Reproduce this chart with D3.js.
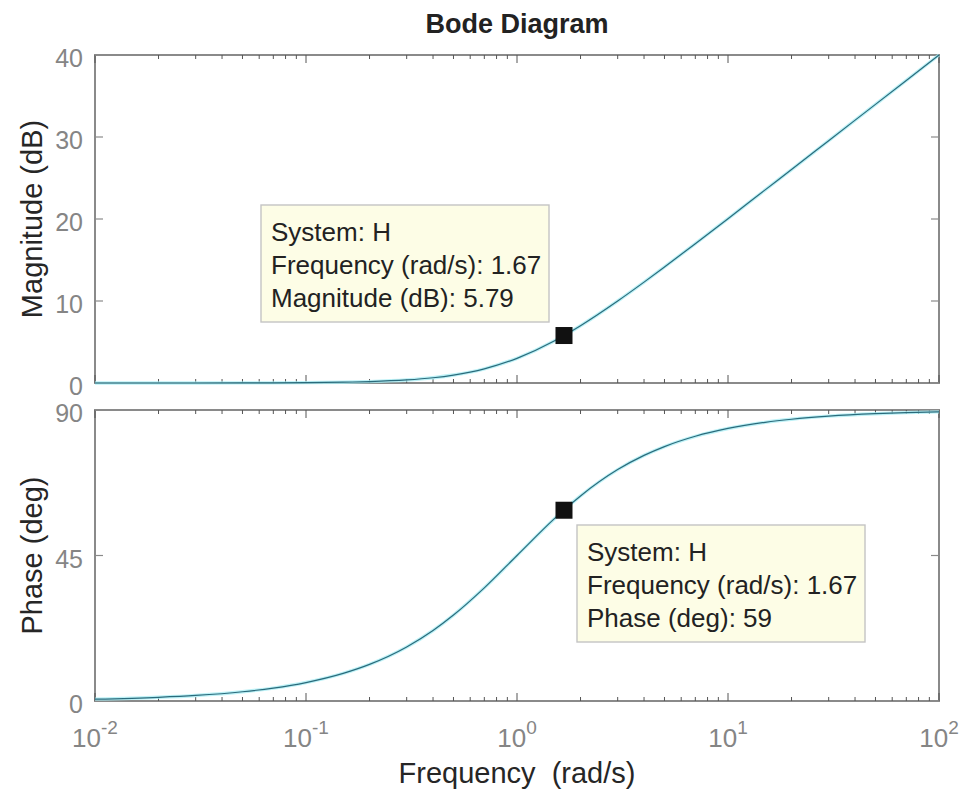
<!DOCTYPE html>
<html>
<head>
<meta charset="utf-8">
<script src="https://cdn.jsdelivr.net/npm/d3@7"></script>
<style>
  body { margin: 0; background: #fff; }
  svg { display: block; font-family: Arial, "Liberation Sans", sans-serif; }
</style>
</head>
<body>
<svg id="chart" width="962" height="792"></svg>
<script>
// Frequency response of system H, sampled along the log axis
const freq      = [0.01, 0.02, 0.03, 0.05, 0.07, 0.1, 0.15, 0.2, 0.3, 0.4, 0.5, 0.7, 1, 1.5, 1.67, 2, 3, 4, 5, 7, 10, 15, 20, 30, 50, 70, 100];
const magnitude = [0.00, 0.00, 0.00, 0.01, 0.02, 0.04, 0.10, 0.17, 0.37, 0.64, 0.97, 1.73, 3.01, 5.12, 5.79, 6.99, 10.00, 12.30, 14.15, 16.99, 20.04, 23.55, 26.03, 29.55, 33.98, 36.90, 40.00];
const phase     = [0.57, 1.15, 1.72, 2.86, 4.00, 5.71, 8.53, 11.31, 16.70, 21.80, 26.57, 34.99, 45.00, 56.31, 59.09, 63.43, 71.57, 75.96, 78.69, 81.87, 84.29, 86.19, 87.14, 88.09, 88.85, 89.18, 89.43];

const magTicks   = [0, 10, 20, 30, 40];
const phaseTicks = [0, 45, 90];
const decadeExps = [-2, -1, 0, 1, 2];

// Data tip
const tipFreq = 1.67, tipMag = 5.79, tipPhase = 59;
const tipSystem = "H";

const svg = d3.select("#chart");
const left = 95, right = 939;
const magTop = 55, magBottom = 383;
const phTop = 410, phBottom = 701;

const x = d3.scaleLog().domain([0.01, 100]).range([left, right]);
const yMag = d3.scaleLinear().domain([0, 40]).range([magBottom, magTop]);
const yPh  = d3.scaleLinear().domain([0, 90]).range([phBottom, phTop]);

const axisColor = "#8a8a8a";
const textColor = "#858585";

// minor ticks (2..9 per decade)
const minorTicks = [];
for (let e = -2; e < 2; e++) for (let m = 2; m <= 9; m++) minorTicks.push(m * Math.pow(10, e));
const majorTicks = decadeExps.map(e => Math.pow(10, e));

function panel(yScale, top, bottom, ticks) {
  const g = svg.append("g");
  g.append("rect").attr("x", left).attr("y", top).attr("width", right - left).attr("height", bottom - top)
    .attr("fill", "#fff").attr("stroke", axisColor).attr("stroke-width", 2);
  // x ticks on bottom & top
  minorTicks.forEach(f => {
    const px = x(f);
    g.append("line").attr("x1", px).attr("x2", px).attr("y1", bottom).attr("y2", bottom - 4).attr("stroke", "#555").attr("stroke-width", 1);
    g.append("line").attr("x1", px).attr("x2", px).attr("y1", top).attr("y2", top + 4).attr("stroke", "#555").attr("stroke-width", 1);
  });
  majorTicks.forEach(f => {
    const px = x(f);
    g.append("line").attr("x1", px).attr("x2", px).attr("y1", bottom).attr("y2", bottom - 8).attr("stroke", "#555").attr("stroke-width", 1);
    g.append("line").attr("x1", px).attr("x2", px).attr("y1", top).attr("y2", top + 8).attr("stroke", "#555").attr("stroke-width", 1);
  });
  // y ticks on left & right
  ticks.forEach(t => {
    const py = yScale(t);
    g.append("line").attr("x1", left).attr("x2", left + 8).attr("y1", py).attr("y2", py).attr("stroke", axisColor).attr("stroke-width", 1.2);
    g.append("line").attr("x1", right).attr("x2", right - 8).attr("y1", py).attr("y2", py).attr("stroke", axisColor).attr("stroke-width", 1.2);
    g.append("text").attr("x", left - 12).attr("y", py).attr("dy", "0.48em").attr("text-anchor", "end")
      .attr("fill", textColor).attr("font-size", 25).text(t);
  });
  return g;
}

const gMag = panel(yMag, magTop, magBottom, magTicks);
const gPh  = panel(yPh, phTop, phBottom, phaseTicks);

function drawCurve(g, yScale, values) {
  const pts = freq.map((f, i) => [f, values[i]]);
  const line = d3.line().x(d => x(d[0])).y(d => yScale(d[1])).curve(d3.curveMonotoneX);
  g.append("path").attr("d", line(pts)).attr("fill", "none").attr("stroke", "#a6ecf3").attr("stroke-width", 3.4).attr("opacity", 0.75);
  g.append("path").attr("d", line(pts)).attr("fill", "none").attr("stroke", "#2a6b7c").attr("stroke-width", 1.2);
}
drawCurve(gMag, yMag, magnitude);
drawCurve(gPh, yPh, phase);

// x tick labels 10^n
decadeExps.forEach(e => {
  const t = svg.append("text").attr("x", x(Math.pow(10, e))).attr("y", 747).attr("text-anchor", "middle")
    .attr("fill", textColor).attr("font-size", 26);
  t.append("tspan").text("10");
  t.append("tspan").attr("dy", -13).attr("font-size", 19).text(e);
});

// Titles
svg.append("text").attr("x", 517).attr("y", 33).attr("text-anchor", "middle").attr("font-size", 27)
  .attr("font-weight", "bold").attr("fill", "#222").text("Bode Diagram");
svg.append("text").attr("x", 517).attr("y", 783).attr("text-anchor", "middle").attr("font-size", 29)
  .attr("fill", "#262626").style("white-space", "pre").text("Frequency  (rad/s)");
svg.append("text").attr("transform", `translate(42,${(magTop + magBottom) / 2}) rotate(-90)`).attr("text-anchor", "middle")
  .attr("font-size", 29).attr("fill", "#262626").text("Magnitude (dB)");
svg.append("text").attr("transform", `translate(42,${(phTop + phBottom) / 2}) rotate(-90)`).attr("text-anchor", "middle")
  .attr("font-size", 29).attr("fill", "#262626").text("Phase (deg)");

// Data tips
function dataTip(g, px, py, bx, by, lines) {
  const w = 288, h = 117;
  g.append("rect").attr("x", bx).attr("y", by).attr("width", w).attr("height", h)
    .attr("fill", "#fdfde6").attr("stroke", "#c4c4c4").attr("stroke-width", 1.4);
  lines.forEach((s, i) => {
    g.append("text").attr("x", bx + 10).attr("y", by + 36 + i * 33).attr("font-size", 26)
      .attr("fill", "#222").text(s);
  });
  g.append("rect").attr("x", px - 8.5).attr("y", py - 8.5).attr("width", 17).attr("height", 17).attr("fill", "#111");
}
dataTip(gMag, x(tipFreq), yMag(tipMag), 261, 205,
  [`System: ${tipSystem}`, `Frequency (rad/s): ${tipFreq}`, `Magnitude (dB): ${tipMag}`]);
dataTip(gPh, x(tipFreq), yPh(tipPhase), 577, 525,
  [`System: ${tipSystem}`, `Frequency (rad/s): ${tipFreq}`, `Phase (deg): ${tipPhase}`]);
</script>
</body>
</html>
